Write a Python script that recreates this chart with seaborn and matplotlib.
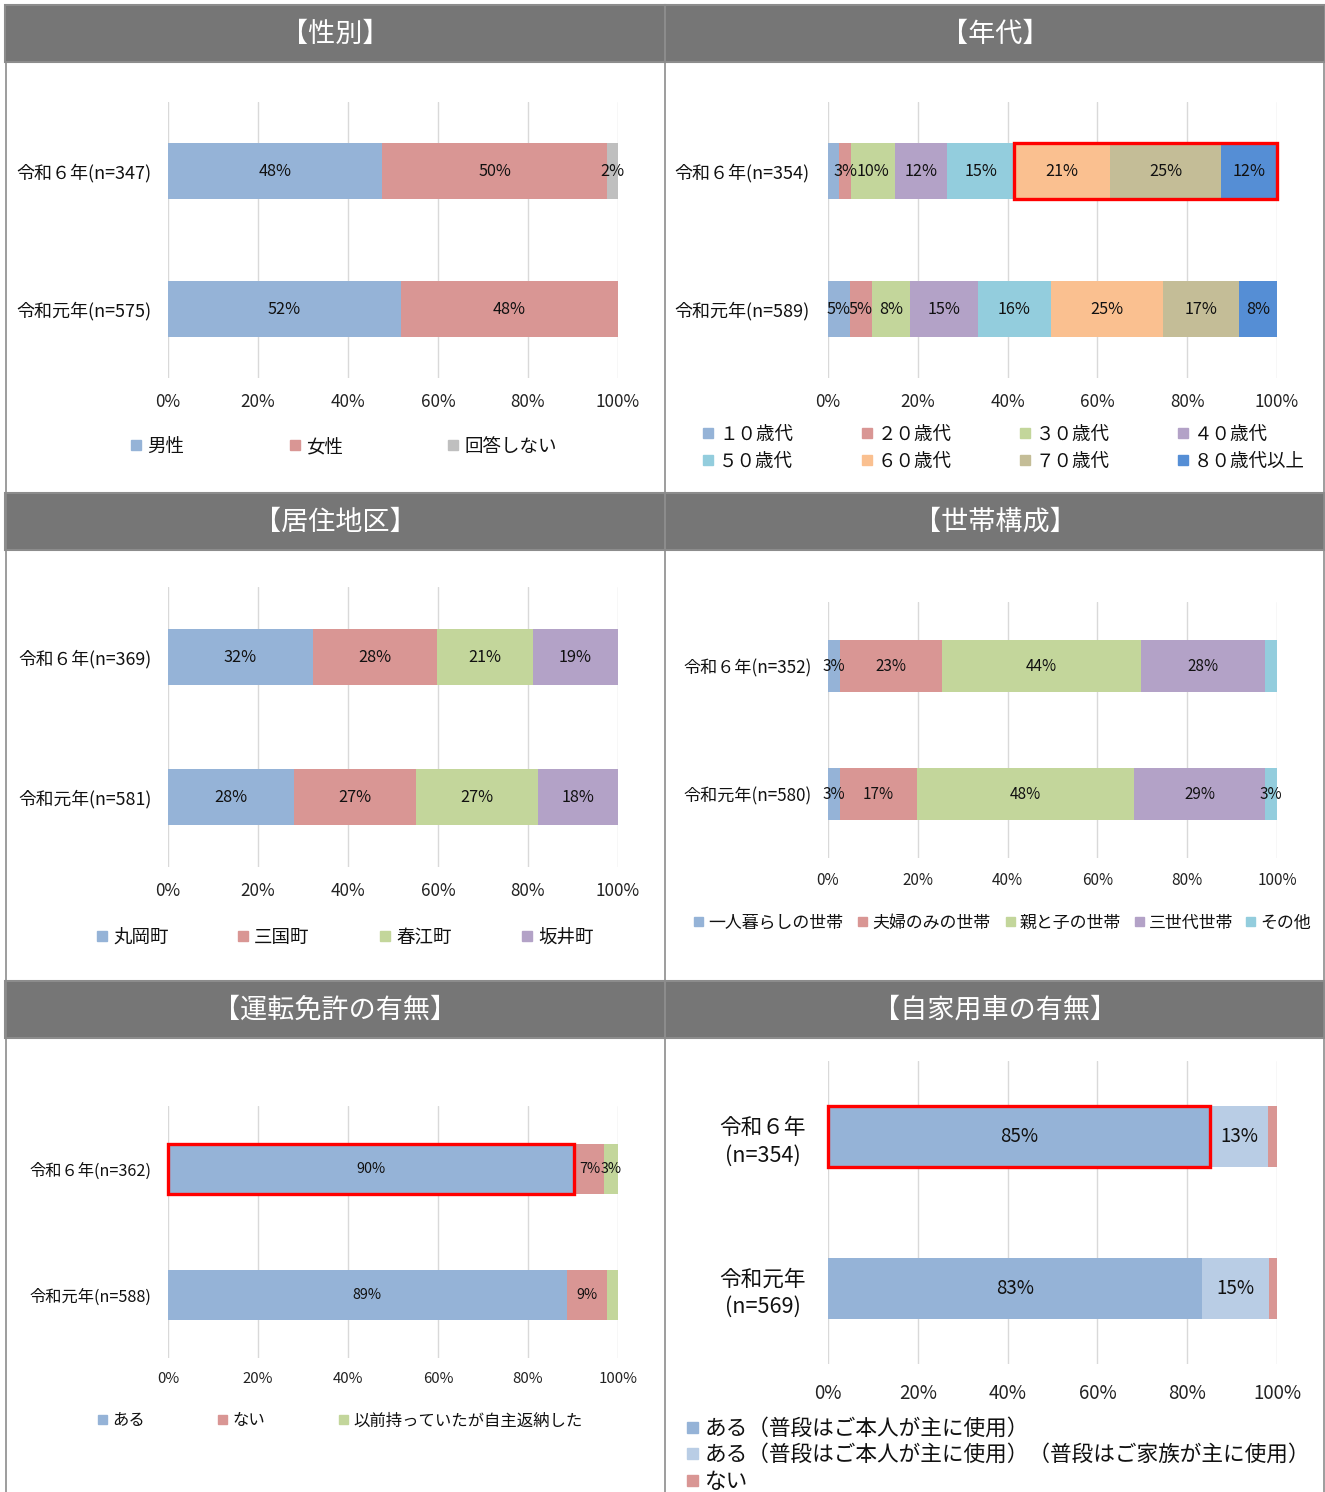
import numpy as np
import pandas as pd
import matplotlib.pyplot as plt
import seaborn as sns
from matplotlib.patches import Rectangle

sns.set_theme(style="white")
plt.rcParams['font.family'] = ['Noto Sans CJK JP', 'DejaVu Sans']

W, H = 1325, 1492

# =========================
# DATA (percent)
# =========================
sex_rows = ["令和６年(n=347)", "令和元年(n=575)"]
sex_names = ["男性", "女性", "回答しない"]
sex_vals = [[47.6, 50.0, 2.4], [51.8, 48.2, 0.0]]

age_rows = ["令和６年(n=354)", "令和元年(n=589)"]
age_names = ["１０歳代", "２０歳代", "３０歳代", "４０歳代",
             "５０歳代", "６０歳代", "７０歳代", "８０歳代以上"]
age_vals = [[2.4, 2.8, 9.7, 11.6, 15.0, 21.2, 24.9, 12.4],
            [4.9, 4.9, 8.4, 15.2, 16.3, 24.9, 17.0, 8.4]]

area_rows = ["令和６年(n=369)", "令和元年(n=581)"]
area_names = ["丸岡町", "三国町", "春江町", "坂井町"]
area_vals = [[32.2, 27.6, 21.3, 18.9], [28.0, 27.1, 27.1, 17.8]]

house_rows = ["令和６年(n=352)", "令和元年(n=580)"]
house_names = ["一人暮らしの世帯", "夫婦のみの世帯", "親と子の世帯", "三世代世帯", "その他"]
house_vals = [[2.6, 22.7, 44.4, 27.7, 2.6], [2.6, 17.2, 48.4, 29.1, 2.7]]

lic_rows = ["令和６年(n=362)", "令和元年(n=588)"]
lic_names = ["ある", "ない", "以前持っていたが自主返納した"]
lic_vals = [[90.3, 6.7, 3.0], [88.6, 9.0, 2.4]]

car_rows = ["令和６年\n(n=354)", "令和元年\n(n=569)"]
car_names = ["ある（普段はご本人が主に使用）",
             "ある（普段はご本人が主に使用）（普段はご家族が主に使用）", "ない"]
car_vals = [[85.1, 12.9, 2.0], [83.3, 14.9, 1.8]]

C_BLUE, C_RED, C_GREEN, C_PURPLE = "#95B3D7", "#D99694", "#C3D69B", "#B3A2C7"
C_AQUA, C_ORANGE, C_TAN, C_DBLUE = "#93CDDD", "#FAC090", "#C4BD97", "#558ED5"

fig = plt.figure(figsize=(W / 100, H / 100), dpi=100)
fig.patch.set_facecolor("white")


def px_axes(x0, y0, x1, y1):
    return fig.add_axes([x0 / W, 1 - y1 / H, (x1 - x0) / W, (y1 - y0) / H])


def stacked(ax, rows, names, vals, colors, fs_lab, fs_tick, fs_y, xpad, ypad, hide=()):
    df = pd.DataFrame(vals, index=rows, columns=names)
    cum = df.cumsum(axis=1)
    for j in reversed(range(len(names))):
        sns.barplot(x=cum.iloc[:, j].values, y=rows, order=rows, orient="h",
                    color=colors[j], saturation=1, width=0.4, linewidth=0, ax=ax)
    for i in range(len(rows)):
        for j in range(len(names)):
            v = df.iloc[i, j]
            if v <= 0 or (i, j) in hide:
                continue
            ax.text(cum.iloc[i, j] - v / 2, i, f"{round(v)}%", ha="center", va="center",
                    fontsize=fs_lab, color="#111111")
    ax.set_xlim(0, 100)
    ax.set_ylim(1.5, -0.5)
    ax.set_xticks(range(0, 101, 20))
    ax.set_xticklabels([f"{t}%" for t in range(0, 101, 20)])
    ax.set_xlabel("")
    ax.set_ylabel("")
    ax.grid(axis="x", color="#D9D9D9", lw=1)
    ax.set_axisbelow(True)
    for s in ax.spines.values():
        s.set_visible(False)
    ax.tick_params(axis="x", length=0, labelsize=fs_tick, pad=xpad, colors="#222222")
    ax.tick_params(axis="y", length=0, labelsize=fs_y, pad=ypad, colors="#111111")
    return cum


def red_box(ax, cum, vals, row, c0, c1):
    start = cum.iloc[row, c0] - vals[row][c0]
    ax.add_patch(Rectangle((start, row - 0.2), cum.iloc[row, c1] - start, 0.4,
                           fill=False, edgecolor="#FF0000", lw=2.4, zorder=5, clip_on=False))


def legend_px(names, colors, xs, ys, fs, sq=10, gap=6):
    for name, c, x, y in zip(names, colors, xs, ys):
        fig.add_artist(Rectangle((x / W, 1 - (y + sq / 2) / H), sq / W, sq / H,
                                 transform=fig.transFigure, color=c))
        fig.text((x + sq + gap) / W, 1 - (y + 2) / H, name, ha="left", va="center",
                 fontsize=fs, color="#111111")


# =========================
# PANEL FRAMES / HEADERS
# =========================
for xl, xr in [(5, 665), (665, 1325)]:
    for yt in [5, 493, 981]:
        fig.add_artist(Rectangle((xl / W, 1 - (yt + 57) / H), (xr - xl) / W, 57 / H,
                                 transform=fig.transFigure, facecolor="#767676",
                                 edgecolor="#8C8C8C", lw=1.5))
for x in [6, 665, 1324]:
    fig.add_artist(plt.Line2D([x / W, x / W], [0, 1 - 62 / H], transform=fig.transFigure,
                              color="#8C8C8C", lw=1.2))

titles = [("【性別】", 335, 34), ("【年代】", 995, 34),
          ("【居住地区】", 335, 522), ("【世帯構成】", 995, 522),
          ("【運転免許の有無】", 335, 1010), ("【自家用車の有無】", 995, 1010)]
for t, x, y in titles:
    fig.text(x / W, 1 - y / H, t, ha="center", va="center", fontsize=19.5, color="white")

# =========================
# PANEL 1: 性別
# =========================
ax1 = px_axes(168, 102, 618, 378)
stacked(ax1, sex_rows, sex_names, sex_vals, [C_BLUE, C_RED, "#BFBFBF"],
        11.7, 12.3, 13, 11, 12)
legend_px(sex_names, [C_BLUE, C_RED, "#BFBFBF"], [131, 290, 448], [445] * 3, 13.3)

# =========================
# PANEL 2: 年代
# =========================
age_colors = [C_BLUE, C_RED, C_GREEN, C_PURPLE, C_AQUA, C_ORANGE, C_TAN, C_DBLUE]
ax2 = px_axes(828, 102, 1277, 378)
cum2 = stacked(ax2, age_rows, age_names, age_vals, age_colors,
               11.7, 12.3, 13, 11, 13, hide={(0, 0)})
red_box(ax2, cum2, age_vals, 0, 5, 7)
legend_px(age_names, age_colors, [703, 862, 1020, 1178] * 2, [433] * 4 + [460] * 4, 13.3)

# =========================
# PANEL 3: 居住地区
# =========================
area_colors = [C_BLUE, C_RED, C_GREEN, C_PURPLE]
ax3 = px_axes(168, 587, 618, 867)
stacked(ax3, area_rows, area_names, area_vals, area_colors, 11.7, 12.3, 12.8, 11, 12)
legend_px(area_names, area_colors, [97, 238, 380, 522], [936] * 4, 13.3)

# =========================
# PANEL 4: 世帯構成
# =========================
house_colors = [C_BLUE, C_RED, C_GREEN, C_PURPLE, C_AQUA]
ax4 = px_axes(828, 602, 1277, 858)
stacked(ax4, house_rows, house_names, house_vals, house_colors,
        11, 11, 12.3, 10, 12, hide={(0, 4)})
legend_px(house_names, house_colors, [694, 858, 1006, 1135, 1246], [921] * 5, 12.2, sq=9, gap=5)

# =========================
# PANEL 5: 運転免許の有無
# =========================
lic_colors = [C_BLUE, C_RED, C_GREEN]
ax5 = px_axes(168, 1106, 618, 1358)
cum5 = stacked(ax5, lic_rows, lic_names, lic_vals, lic_colors,
               10.3, 10.8, 11.7, 10, 12, hide={(1, 2)})
red_box(ax5, cum5, lic_vals, 0, 0, 0)
legend_px(lic_names, lic_colors, [98, 218, 339], [1419] * 3, 11.8, sq=9, gap=5)

# =========================
# PANEL 6: 自家用車の有無
# =========================
car_colors = [C_BLUE, "#B9CDE5", C_RED]
ax6 = px_axes(828, 1061, 1277, 1364)
cum6 = stacked(ax6, car_rows, car_names, car_vals, car_colors,
               13.5, 13.5, 15.6, 14, 16, hide={(0, 2), (1, 2)})
for lbl in ax6.get_yticklabels():
    lbl.set_multialignment("center")
    lbl.set_linespacing(1.3)
red_box(ax6, cum6, car_vals, 0, 0, 0)
legend_px(car_names, car_colors, [687] * 3, [1427, 1453, 1480], 15.6, sq=11, gap=7)

plt.savefig("out.png", dpi=100)
